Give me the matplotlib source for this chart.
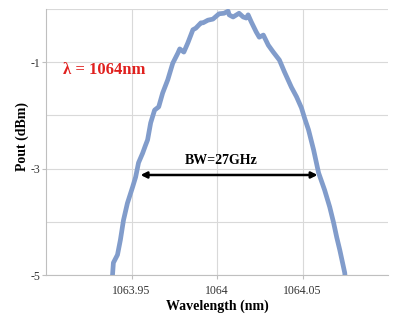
import matplotlib
matplotlib.use("Agg")
import matplotlib.pyplot as plt
from matplotlib.ticker import FixedLocator

# data
wavelength_nm = [
    1063.9382, 1063.9388, 1063.9394, 1063.9418, 1063.9435, 1063.9453, 1063.9476,
    1063.9506, 1063.9524, 1063.9541, 1063.9565, 1063.9582, 1063.9594, 1063.9612,
    1063.9635, 1063.9659, 1063.9682, 1063.9712, 1063.9741, 1063.9771, 1063.9782,
    1063.9806, 1063.9829, 1063.9859, 1063.9876, 1063.9906, 1063.9918, 1063.9947,
    1063.9976, 1064.0012, 1064.0041, 1064.0065, 1064.0071, 1064.0094, 1064.0129,
    1064.0153, 1064.0171, 1064.0182, 1064.0200, 1064.0229, 1064.0247, 1064.0271,
    1064.0300, 1064.0329, 1064.0365, 1064.0394, 1064.0435, 1064.0465, 1064.0494,
    1064.0512, 1064.0535, 1064.0565, 1064.0594, 1064.0629, 1064.0659, 1064.0682,
    1064.0700, 1064.0718, 1064.0747, 1064.0753,
]
pout_dbm = [
    -5.19, -5.04, -4.77, -4.62, -4.34, -3.97, -3.65,
    -3.35, -3.16, -2.89, -2.71, -2.56, -2.46, -2.14,
    -1.90, -1.84, -1.58, -1.33, -1.02, -0.83, -0.75,
    -0.81, -0.64, -0.39, -0.36, -0.26, -0.26, -0.21,
    -0.19, -0.09, -0.08, -0.04, -0.11, -0.15, -0.08,
    -0.15, -0.17, -0.11, -0.24, -0.43, -0.53, -0.49,
    -0.68, -0.81, -0.96, -1.18, -1.47, -1.65, -1.86,
    -2.05, -2.27, -2.65, -3.08, -3.40, -3.72, -4.02,
    -4.29, -4.53, -4.96, -5.19,
]
xtick_values = [1063.95, 1064.0, 1064.05]
xtick_labels = ["1063.95", "1064", "1064.05"]
ytick_values = [-5, -3, -1]
ytick_labels = ["-5", "-3", "-1"]
bw_start, bw_end, bw_level = 1063.9553, 1064.0588, -3.12

serif = "Liberation Serif"

fig = plt.figure(figsize=(3.94, 3.18), dpi=100)
ax = fig.add_axes([0.1168, 0.1352, 0.8680, 0.8365])

ax.plot(wavelength_nm, pout_dbm, color="#819CCB", lw=3.4, solid_joinstyle="round", zorder=3)

ax.set_xlim(1063.9, 1064.1)
ax.set_ylim(-5, 0)

ax.xaxis.set_major_locator(FixedLocator(xtick_values))
ax.set_xticklabels(xtick_labels)
ax.yaxis.set_major_locator(FixedLocator(ytick_values))
ax.yaxis.set_minor_locator(FixedLocator([-4, -2, 0]))
ax.set_yticklabels(ytick_labels)

ax.grid(True, which="both", color="#d9d9d9", lw=0.8, zorder=0)
ax.tick_params(axis="both", which="major", length=3, color="#bfbfbf",
               labelsize=8.5, labelcolor="#333333", pad=4)
ax.tick_params(axis="y", which="major", pad=1)
ax.tick_params(axis="y", which="minor", length=0)
for lab in ax.get_xticklabels() + ax.get_yticklabels():
    lab.set_family(serif)

for side in ["top", "right"]:
    ax.spines[side].set_visible(False)
ax.spines["left"].set_color("#bfbfbf")
ax.spines["bottom"].set_color("#bfbfbf")

ax.set_xlabel("Wavelength (nm)", family=serif, fontweight="bold", fontsize=10, labelpad=2)
ax.set_ylabel("Pout (dBm)", family=serif, fontweight="bold", fontsize=10)
ax.yaxis.set_label_coords(-0.05, 0.52)

# bandwidth arrow
ax.annotate("", xy=(bw_start, bw_level), xytext=(bw_end, bw_level),
            arrowprops=dict(arrowstyle="<|-|>", color="black", lw=1.8,
                            shrinkA=0, shrinkB=0, mutation_scale=9), zorder=4)
ax.text(1064.0024, -2.84, "BW=27GHz", family=serif, fontweight="bold",
        fontsize=10, ha="center", va="center")
ax.text(1063.910, -1.15, "λ = 1064nm", family=serif, fontweight="bold",
        fontsize=12, color="#e0201e", ha="left", va="center")

fig.savefig("out.png", dpi=100)
